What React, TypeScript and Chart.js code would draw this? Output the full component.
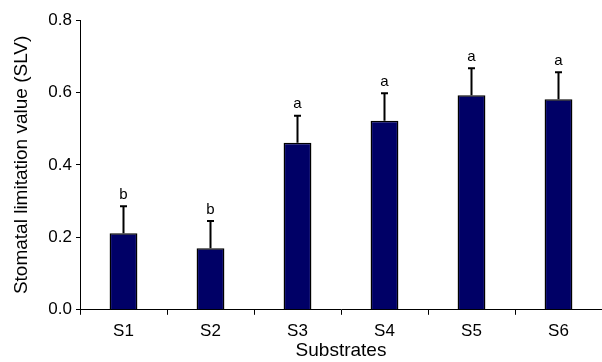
import React, { useEffect, useRef } from "react";
import { Chart, registerables } from "chart.js";

Chart.register(...registerables);

const categories = ["S1", "S2", "S3", "S4", "S5", "S6"];
const means = [0.211, 0.17, 0.461, 0.522, 0.592, 0.581];
const errors = [0.075, 0.075, 0.075, 0.076, 0.075, 0.075];
const letters = ["b", "b", "a", "a", "a", "a"];

const FONT = "'Liberation Sans', Arial, sans-serif";

const errorPlugin = {
  id: "errorBars",
  afterDatasetsDraw(chart: any) {
    const ctx = chart.ctx;
    const meta = chart.getDatasetMeta(0);
    const y = chart.scales.y;
    ctx.save();
    meta.data.forEach((bar: any, i: number) => {
      const x = bar.x;
      const top = y.getPixelForValue(means[i]);
      const et = y.getPixelForValue(means[i] + errors[i]);
      ctx.strokeStyle = "#000";
      ctx.lineWidth = 2;
      ctx.beginPath();
      ctx.moveTo(x, top);
      ctx.lineTo(x, et);
      ctx.moveTo(x - 3.5, et);
      ctx.lineTo(x + 3.5, et);
      ctx.stroke();
      ctx.fillStyle = "#000";
      ctx.font = "15px " + FONT;
      ctx.textAlign = "center";
      ctx.textBaseline = "bottom";
      ctx.fillText(letters[i], x, et - 4);
    });
    ctx.restore();
  },
};

export default function App() {
  const ref = useRef<HTMLCanvasElement>(null);
  useEffect(() => {
    document.body.style.margin = "0";
    const chart = new Chart(ref.current!, {
      type: "bar",
      data: {
        labels: categories,
        datasets: [
          {
            data: means,
            backgroundColor: "#000066",
            borderColor: "#000000",
            borderWidth: 1.5,
            barPercentage: 0.32,
            categoryPercentage: 1,
          },
        ],
      },
      options: {
        responsive: false,
        animation: false,
        layout: { padding: { top: 20, right: 0, left: 10, bottom: 0 } },
        plugins: { legend: { display: false }, tooltip: { enabled: false } },
        scales: {
          x: {
            grid: {
              offset: true,
              drawOnChartArea: false,
              color: "#000",
              tickLength: 5,
            },
            border: { color: "#000", width: 1 },
            ticks: {
              color: "#000",
              font: { size: 17, family: FONT },
              padding: 6,
            },
            title: {
              display: true,
              text: "Substrates",
              color: "#000",
              font: { size: 19, family: FONT },
              padding: { top: -8, bottom: 0 },
            },
          },
          y: {
            min: 0,
            max: 0.8,
            grid: { drawOnChartArea: false, color: "#000", tickLength: 4 },
            border: { color: "#000", width: 1 },
            afterFit: (s: any) => {
              s.width = 70;
            },
            ticks: {
              stepSize: 0.2,
              color: "#000",
              padding: 4,
              font: { size: 17, family: FONT },
              callback: (v: any) => Number(v).toFixed(1),
            },
            title: {
              display: true,
              text: "Stomatal limitation value (SLV)",
              color: "#000",
              font: { size: 19, family: FONT },
              padding: { top: 0, bottom: 0 },
            },
          },
        },
      },
      plugins: [errorPlugin],
    });
    return () => chart.destroy();
  }, []);
  return <canvas ref={ref} width={602} height={362} style={{ display: "block" }} />;
}
